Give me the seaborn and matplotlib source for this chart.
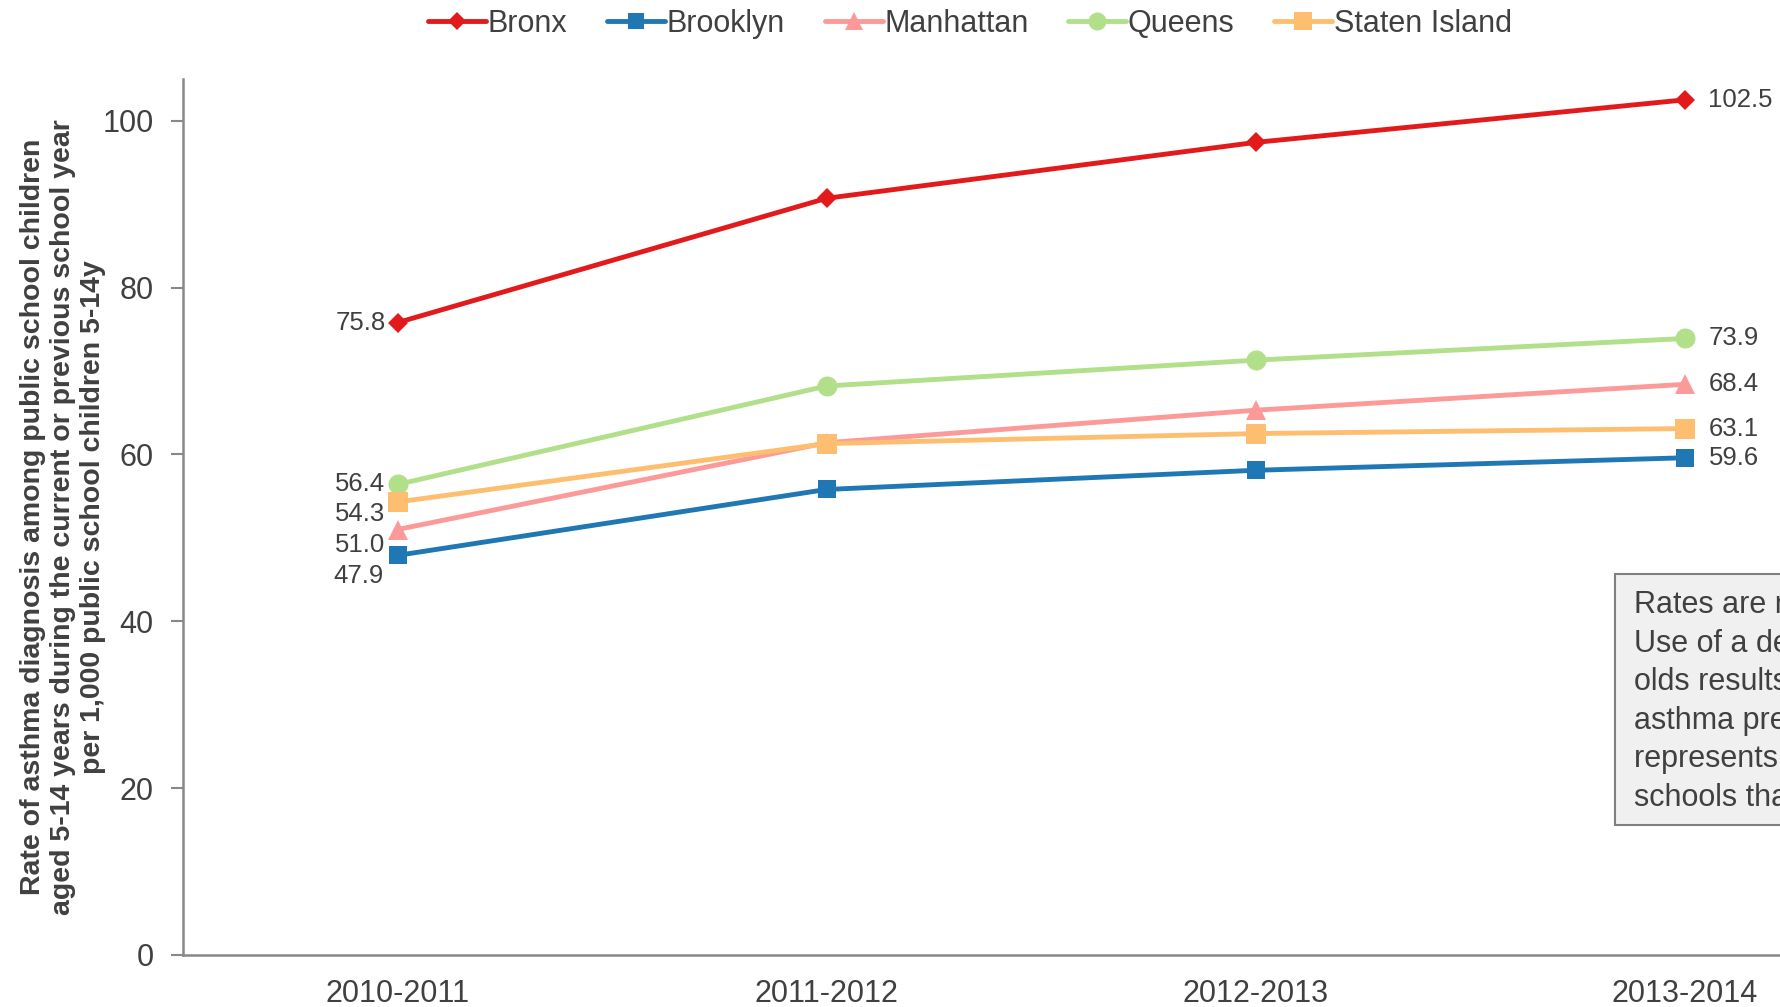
import matplotlib
matplotlib.use("Agg")
import matplotlib.pyplot as plt
import seaborn as sns
import pandas as pd
from matplotlib.patches import Rectangle

# ---- data ----
years = ["2010-2011", "2011-2012", "2012-2013", "2013-2014"]
boroughs = ["Bronx", "Brooklyn", "Manhattan", "Queens", "Staten Island"]
bronx = [75.8, 90.7, 97.4, 102.5]
brooklyn = [47.9, 55.8, 58.1, 59.6]
manhattan = [51.0, 61.4, 65.3, 68.4]
queens = [56.4, 68.2, 71.3, 73.9]
staten_island = [54.3, 61.3, 62.5, 63.1]
y_ticks = [0, 20, 40, 60, 80, 100]
y_label = ("Rate of asthma diagnosis among public school children\n"
           "aged 5-14 years during the current or previous school year\n"
           "per 1,000 public school children 5-14y")
note_text = ("Rates are not age-adjusted.\n"
             "Use of a denominator of 5-14 year\n"
             "olds results in an underestimate of\n"
             "asthma prevalence. The denominator\n"
             "represents all children enrolled in\n"
             "schools that participated.")

series = {"Bronx": bronx, "Brooklyn": brooklyn, "Manhattan": manhattan,
          "Queens": queens, "Staten Island": staten_island}
rows = []
for b in boroughs:
    for yr, v in zip(years, series[b]):
        rows.append({"Year": yr, "Borough": b, "Rate": v})
df = pd.DataFrame(rows)

# ---- styles ----
colors = {"Bronx": "#e31a1c", "Brooklyn": "#1f78b4", "Manhattan": "#fb9a99",
          "Queens": "#b2df8a", "Staten Island": "#fdbf6f"}
markers = {"Bronx": "D", "Brooklyn": "s", "Manhattan": "^",
           "Queens": "o", "Staten Island": "s"}
msize = {"Bronx": 10.2, "Brooklyn": 13.5, "Manhattan": 14.4, "Queens": 14.4, "Staten Island": 14.4}
# label offsets in pixels (first point, last point)
first_off = {"Bronx": (-12, 0), "Brooklyn": (-14, -21), "Manhattan": (-12, -15),
             "Queens": (-12, 0), "Staten Island": (-12, -12)}
last_off = {"Bronx": (24, 0), "Brooklyn": (24, 0), "Manhattan": (24, 0),
            "Queens": (24, 0), "Staten Island": (24, 0)}

sns.set_theme(style="white")
plt.rcParams["font.family"] = ["Liberation Sans", "DejaVu Sans"]
text_color = "#404040"
axis_color = "#888888"

fig = plt.figure(figsize=(17.8, 10.07), dpi=100)
ax = fig.add_axes([183 / 1780, 52 / 1007, 1716 / 1780, 876 / 1007])

sns.lineplot(data=df, x="Year", y="Rate", hue="Borough", style="Borough",
             hue_order=boroughs, style_order=boroughs, palette=colors,
             markers=markers, dashes=False, linewidth=3.5, markersize=12,
             markeredgewidth=0, ax=ax, legend=True, sort=False)

for line, b in zip(ax.lines[:len(boroughs)], boroughs):
    line.set_markersize(msize[b])

ax.set_xlim(-0.5, 3.5)
ax.set_ylim(0, 105)
ax.set_yticks(y_ticks)
ax.set_xticks(range(len(years)))
ax.set_xticklabels(years)
ax.set_xticks([i - 0.5 for i in range(len(years) + 1)], minor=True)
ax.tick_params(axis="x", which="major", length=0, pad=17, labelsize=22, labelcolor=text_color)
ax.tick_params(axis="x", which="minor", length=9, width=1.5, color=axis_color, direction="out")
ax.tick_params(axis="y", which="major", length=9, width=1.5, color=axis_color,
               direction="out", pad=12, labelsize=22, labelcolor=text_color, left=True)
for s in ["top", "right"]:
    ax.spines[s].set_visible(False)
for s in ["left", "bottom"]:
    ax.spines[s].set_color(axis_color)
    ax.spines[s].set_linewidth(1.8)
ax.set_xlabel("")
ax.set_ylabel("")
fig.text(63 / 1780, 1 - 517 / 1007, y_label, rotation=90, ha="center", va="center",
         multialignment="center", fontsize=20.5, fontweight="bold", color=text_color,
         linespacing=1.2)

# data labels
for b in boroughs:
    vals = series[b]
    dx, dy = first_off[b]
    ax.annotate(f"{vals[0]:.1f}", xy=(0, vals[0]), xytext=(dx, dy),
                textcoords="offset pixels", ha="right", va="center",
                fontsize=18.5, color=text_color)
    dx, dy = last_off[b]
    ax.annotate(f"{vals[-1]:.1f}", xy=(len(years) - 1, vals[-1]), xytext=(dx, dy),
                textcoords="offset pixels", ha="left", va="center",
                fontsize=18.5, color=text_color, annotation_clip=False)

# legend
handles, labels = ax.get_legend_handles_labels()
ax.legend_.remove()
for h, b in zip(handles, labels):
    h.set_linewidth(3.5)
    h.set_markersize(msize.get(b, 12) * 0.9)
    h.set_markeredgewidth(0)
fig.legend(handles, labels, loc="center", bbox_to_anchor=(0.545, 1 - 24 / 1007),
           ncol=5, frameon=False, fontsize=22, handlelength=1.9, handletextpad=0.05,
           columnspacing=1.3, labelcolor=text_color)

# note box (runs off the right edge)
fig.patches.append(Rectangle((1615 / 1780, 1 - 825 / 1007), 0.3, 251 / 1007,
                             transform=fig.transFigure, facecolor="#f0f0f0",
                             edgecolor="#808080", linewidth=1.5, zorder=5))
fig.text(1634 / 1780, 1 - 590 / 1007, note_text, ha="left", va="top",
         fontsize=22, color=text_color, linespacing=1.37, zorder=6)

fig.savefig("out.png", dpi=100)
